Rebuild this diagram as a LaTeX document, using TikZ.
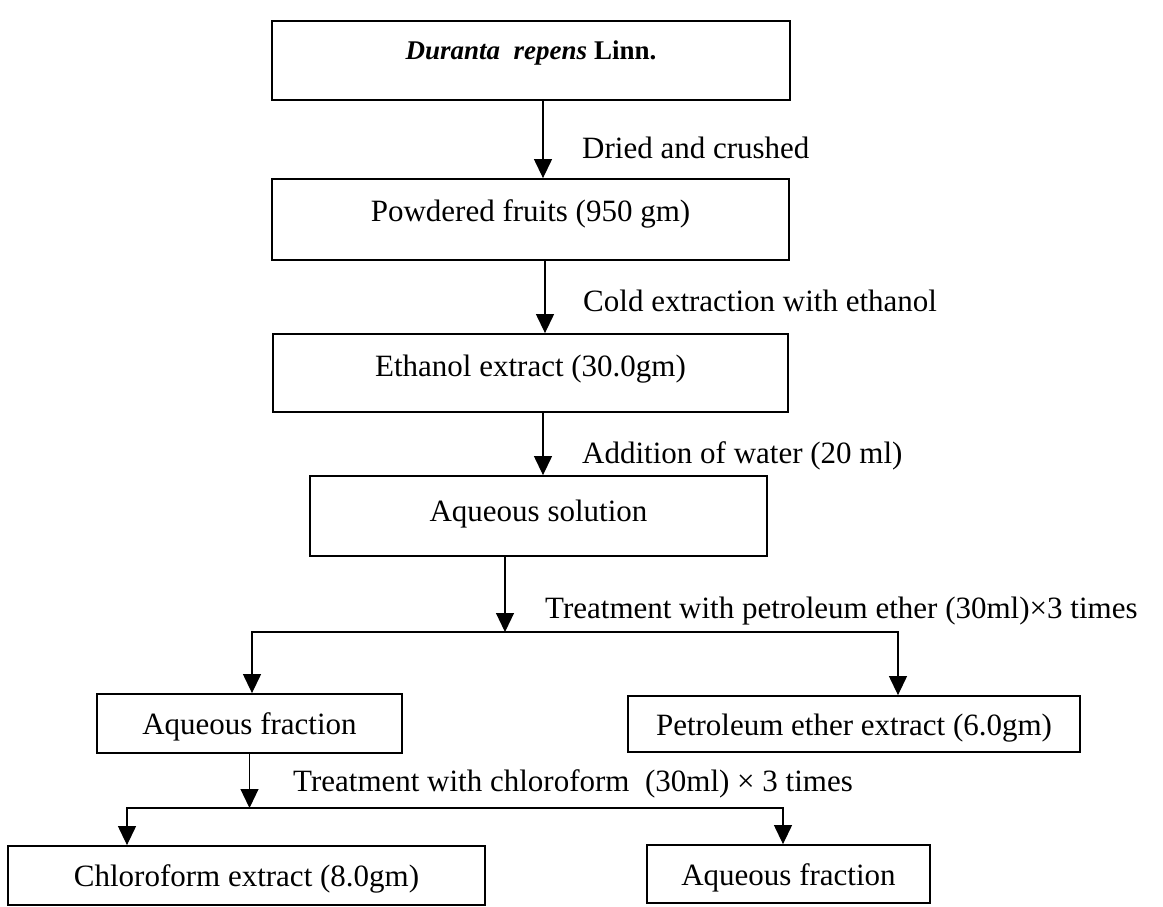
\documentclass[tikz,border=0pt]{standalone}
\usepackage{fontspec}
\setmainfont{Liberation Serif}
\usetikzlibrary{arrows.meta,calc}
\begin{document}
\begin{tikzpicture}[x=1pt,y=-1pt,
  box/.style={draw, line width=1.8pt, rectangle, inner sep=0pt,
    font=\fontsize{31}{37}\selectfont, text height=22pt, text depth=0pt},
  arr/.style={line width=1.2pt, -{Triangle[width=18pt,length=19pt]}},
  lbl/.style={anchor=west, inner sep=0pt, text height=22pt, text depth=0pt,
    font=\fontsize{31}{37}\selectfont}]
\useasboundingbox (0,0) rectangle (1163,907);

% boxes
\node[box, minimum width=518pt, minimum height=79pt, text depth=24pt,
  font=\fontsize{27}{32}\selectfont\bfseries] (b1) at (531,60.5)
  {\textit{Duranta}\ \ \textit{repens} Linn.};
\node[box, minimum width=517pt, minimum height=81pt, text depth=19pt] (b2) at (530.5,219.5) {Powdered fruits (950 gm)};
\node[box, minimum width=515pt, minimum height=78pt, text depth=16pt] (b3) at (530.5,373) {Ethanol extract (30.0gm)};
\node[box, minimum width=457pt, minimum height=80pt, text depth=12pt] (b4) at (538.5,516) {Aqueous solution};
\node[box, minimum width=305pt, minimum height=59pt] (b5) at (249.5,723.5) {Aqueous fraction};
\node[box, minimum width=452pt, minimum height=56pt] (b6) at (854,724) {Petroleum ether extract (6.0gm)};
\node[box, minimum width=477pt, minimum height=59pt] (b7) at (246.5,875.5) {Chloroform extract (8.0gm)};
\node[box, minimum width=283pt, minimum height=58pt] (b8) at (788.5,874) {Aqueous fraction};

% split points
\coordinate (s1) at (505,632);
\coordinate (s2) at (249.5,808);

% connectors
\draw[arr] ($(b1.south)+(12,0)$) -- ($(b2.north)+(12.5,0)$);
\draw[arr] ($(b2.south)+(14.5,0)$) -- ($(b3.north)+(14.5,0)$);
\draw[arr] ($(b3.south)+(12.5,0)$) -- ($(b4.north)+(4.5,0)$);
\draw[arr] ($(b4.south)+(-33.5,0)$) -- (s1);
\draw[arr] (s1) -| ($(b5.north)+(2.5,0)$);
\draw[arr] (s1) -| ($(b6.north)+(44,0)$);
\draw[arr] (b5.south) -- (s2);
\draw[arr] (s2) -| ($(b7.north)+(-119.5,0)$);
\draw[arr] (s2) -| ($(b8.north)+(-5.5,0)$);

% labels
\node[lbl] (l1) at (582,147) {Dried and crushed};
\node[lbl] (l2) at (583,300) {Cold extraction with ethanol};
\node[lbl] (l3) at (582,452) {Addition of water (20 ml)};
\node[lbl] (l4) at (545,607) {Treatment with petroleum ether (30ml)×3 times};
\node[lbl] (l5) at (293,780) {Treatment with chloroform\ \ (30ml) × 3 times};
\end{tikzpicture}
\end{document}
